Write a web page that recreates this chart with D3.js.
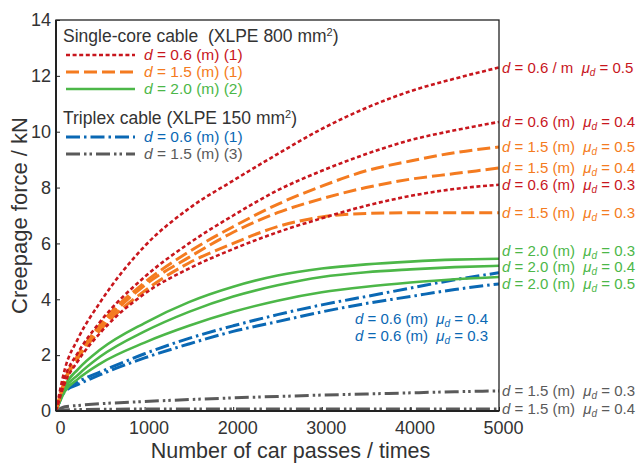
<!DOCTYPE html>
<html>
<head>
<meta charset="utf-8">
<script src="https://cdn.jsdelivr.net/npm/d3@7"></script>
<style>
body { margin: 0; background: #fff; font-family: "Liberation Sans", Arial, sans-serif; }
text { white-space: pre; }
</style>
</head>
<body>
<script>
var width  = 643;
var height = 463;
var margin = {top: 20, right: 144, bottom: 52, left: 56};

// number of car passes where the curves were read
var passes = [0, 100, 250, 500, 1000, 1500, 2000, 2500, 3000, 3500, 4000, 4500, 5000];

// creepage force (kN), single-core cable
var red05    = [0, 1.5, 2.6, 3.9, 5.9, 7.25, 8.25, 9.2, 10.1, 10.85, 11.45, 11.9, 12.3];
var red04    = [0, 1.2, 2.1, 3.2, 4.8, 6.0, 7.0, 7.9, 8.6, 9.2, 9.7, 10.05, 10.35];
var red03    = [0, 1.0, 1.8, 2.8, 4.2, 5.1, 5.8, 6.4, 6.9, 7.35, 7.7, 7.95, 8.1];
var orange05 = [0, 1.1, 2.0, 3.1, 4.6, 5.7, 6.6, 7.4, 8.05, 8.6, 8.95, 9.25, 9.45];
var orange04 = [0, 1.1, 2.0, 3.0, 4.5, 5.5, 6.4, 7.1, 7.6, 8.0, 8.3, 8.5, 8.7];
var orange03 = [0, 1.05, 1.9, 2.9, 4.3, 5.3, 6.0, 6.6, 6.95, 7.07, 7.1, 7.1, 7.1];
var green03  = [0, 0.9, 1.5, 2.2, 3.15, 3.9, 4.45, 4.85, 5.1, 5.25, 5.35, 5.42, 5.45];
var green04  = [0, 0.8, 1.3, 1.95, 2.85, 3.55, 4.1, 4.5, 4.8, 4.97, 5.07, 5.15, 5.2];
var green05  = [0, 0.7, 1.15, 1.7, 2.45, 3.05, 3.55, 3.95, 4.25, 4.45, 4.6, 4.72, 4.8];
// triplex cable
var blue04   = [0, 0.75, 1.05, 1.4, 2.05, 2.6, 3.05, 3.45, 3.8, 4.1, 4.4, 4.7, 4.95];
var blue03   = [0, 0.7, 0.95, 1.3, 1.9, 2.4, 2.85, 3.2, 3.55, 3.85, 4.1, 4.35, 4.55];
var gray03   = [0, 0.15, 0.2, 0.26, 0.34, 0.41, 0.47, 0.52, 0.57, 0.61, 0.65, 0.69, 0.72];
var gray04   = [0, 0.04, 0.05, 0.06, 0.07, 0.07, 0.07, 0.07, 0.07, 0.07, 0.07, 0.07, 0.07];

var xTicks = [0, 1000, 2000, 3000, 4000, 5000];
var yTicks = [0, 2, 4, 6, 8, 10, 12, 14];

var legendGroups = [
    {"title": "Single-core cable  (XLPE 800 mm", "items": [
        {"style": "red",    "text": "= 0.6 (m) (1)"},
        {"style": "orange", "text": "= 1.5 (m) (1)"},
        {"style": "green",  "text": "= 2.0 (m) (2)"}]},
    {"title": "Triplex cable (XLPE 150 mm", "items": [
        {"style": "blue",   "text": "= 0.6 (m) (1)"},
        {"style": "gray",   "text": "= 1.5 (m) (3)"}]}
];

var styles = {
    "red":    {"color": "#c8161d", "dash": "4,2.6",        "w": 2.6},
    "orange": {"color": "#f47b20", "dash": "13,5",         "w": 3},
    "green":  {"color": "#4cb748", "dash": null,           "w": 2.6},
    "blue":   {"color": "#0a68b4", "dash": "14,4,2.5,4",   "w": 3},
    "gray":   {"color": "#5a5a5a", "dash": "14,4,2.5,3,2.5,4", "w": 3}
};

var series = [
    {"v": red05,    "s": "red",    "d": "0.6 / m", "mu": "0.5", "lab": "right"},
    {"v": red04,    "s": "red",    "d": "0.6 (m)", "mu": "0.4", "lab": "right"},
    {"v": red03,    "s": "red",    "d": "0.6 (m)", "mu": "0.3", "lab": "right"},
    {"v": orange05, "s": "orange", "d": "1.5 (m)", "mu": "0.5", "lab": "right"},
    {"v": orange04, "s": "orange", "d": "1.5 (m)", "mu": "0.4", "lab": "right"},
    {"v": orange03, "s": "orange", "d": "1.5 (m)", "mu": "0.3", "lab": "right"},
    {"v": green03,  "s": "green",  "d": "2.0 (m)", "mu": "0.3", "lab": "right"},
    {"v": green04,  "s": "green",  "d": "2.0 (m)", "mu": "0.4", "lab": "right"},
    {"v": green05,  "s": "green",  "d": "2.0 (m)", "mu": "0.5", "lab": "right"},
    {"v": blue04,   "s": "blue",   "d": "0.6 (m)", "mu": "0.4", "lab": "inside"},
    {"v": blue03,   "s": "blue",   "d": "0.6 (m)", "mu": "0.3", "lab": "inside"},
    {"v": gray03,   "s": "gray",   "d": "1.5 (m)", "mu": "0.3", "lab": "right"},
    {"v": gray04,   "s": "gray",   "d": "1.5 (m)", "mu": "0.4", "lab": "right"}
];

var cWidth  = width - margin.left - margin.right;
var cHeight = height - margin.top - margin.bottom;

var svg = d3.select("body").append("svg")
    .attr("width", width)
    .attr("height", height)
    .append("g")
    .attr("transform", "translate(" + margin.left + "," + margin.top + ")");

var x = d3.scaleLinear().domain([0, 5000]).range([0, cWidth]);
var y = d3.scaleLinear().domain([0, 14]).range([cHeight, 0]);

svg.append("clipPath").attr("id", "clip")
    .append("rect").attr("width", cWidth).attr("height", cHeight);

var line = d3.line()
    .x(function(d, i) { return x(passes[i]); })
    .y(function(d) { return y(d); })
    .curve(d3.curveMonotoneX);

// curves, drawn bottom ones first
var plot = svg.append("g").attr("clip-path", "url(#clip)");
series.slice().reverse().forEach(function(s) {
    var st = styles[s.s];
    plot.append("path")
        .datum(s.v)
        .attr("fill", "none")
        .attr("stroke", st.color)
        .attr("stroke-width", st.w)
        .attr("stroke-dasharray", st.dash)
        .attr("d", line);
});

// axes
var xAxis = svg.append("g")
    .attr("transform", "translate(0," + cHeight + ")")
    .call(d3.axisBottom(x).tickValues(xTicks).tickFormat(d3.format("d"))
        .tickSizeInner(-4).tickSizeOuter(0).tickPadding(10));
xAxis.selectAll("text").attr("dx", 4);
var yAxis = svg.append("g")
    .call(d3.axisLeft(y).tickValues(yTicks).tickSizeInner(-4).tickSizeOuter(0).tickPadding(5));
[xAxis, yAxis].forEach(function(a) {
    a.selectAll("text").attr("font-size", 18).attr("fill", "#333")
        .attr("font-family", "Liberation Sans, Arial, sans-serif");
    a.selectAll(".tick line").attr("stroke", "#222");
    a.select(".domain").remove();
});

// frame
svg.append("rect")
    .attr("width", cWidth).attr("height", cHeight)
    .attr("fill", "none").attr("stroke", "#222").attr("stroke-width", 1.3);
svg.append("line").attr("x1", 0).attr("x2", 0).attr("y1", 0).attr("y2", cHeight)
    .attr("stroke", "#222").attr("stroke-width", 2);
svg.append("line").attr("x1", 0).attr("x2", cWidth).attr("y1", cHeight).attr("y2", cHeight)
    .attr("stroke", "#222").attr("stroke-width", 2);

// axis titles
svg.append("text")
    .attr("x", cWidth / 2 + 13).attr("y", cHeight + 47)
    .attr("text-anchor", "middle").attr("font-size", 21.5).attr("fill", "#333")
    .text("Number of car passes / times");
svg.append("text")
    .attr("transform", "translate(" + (-29) + "," + (cHeight / 2) + ") rotate(-90)")
    .attr("text-anchor", "middle").attr("font-size", 22).attr("fill", "#333")
    .text("Creepage force / kN");

// label helper: "d = .. (m)  μd = .."
function curveLabel(g, s, px, py, anchor) {
    var t = g.append("text")
        .attr("x", px).attr("y", py).attr("dy", "0.35em")
        .attr("text-anchor", anchor)
        .attr("font-size", 15)
        .attr("fill", styles[s.s].color);
    t.append("tspan").attr("font-style", "italic").text("d");
    t.append("tspan").text(" = " + s.d + "  ");
    t.append("tspan").attr("font-style", "italic").text("\u03bc");
    t.append("tspan").attr("font-style", "italic").attr("font-size", 10).attr("dy", 3).text("d");
    t.append("tspan").attr("dy", -3).text(" = " + s.mu);
}

// right side labels, spread so they do not overlap
var rightLabels = series.filter(function(s) { return s.lab == "right"; })
    .map(function(s) { return {s: s, y: y(s.v[s.v.length - 1])}; })
    .sort(function(a, b) { return a.y - b.y; });
for (var k = 0; k < 60; k++) {
    for (var i = 0; i < rightLabels.length - 1; i++) {
        var gap = rightLabels[i + 1].y - rightLabels[i].y;
        if (gap < 16.5) {
            var push = (16.5 - gap) / 2;
            rightLabels[i].y -= push;
            rightLabels[i + 1].y += push;
        }
    }
}
rightLabels.forEach(function(l) { curveLabel(svg, l.s, cWidth + 3, l.y, "start"); });

// blue labels sit inside the plot under the curve ends
var inside = series.filter(function(s) { return s.lab == "inside"; });
inside.forEach(function(s, i) {
    curveLabel(svg, s, cWidth - 11, y(inside[inside.length - 1].v[s.v.length - 1]) + 35 + i * 16.5, "end");
});

// legend
var ly = 16;
legendGroups.forEach(function(grp, gi) {
    var title = svg.append("text").attr("x", 7).attr("y", ly).attr("dy", "0.35em")
        .attr("font-size", 17.5).attr("fill", "#333");
    title.append("tspan").text(grp.title);
    title.append("tspan").attr("font-size", 11).attr("dy", -6).text("2");
    title.append("tspan").attr("dy", 6).text(")");
    ly += 19;
    grp.items.forEach(function(it) {
        var st = styles[it.style];
        svg.append("line")
            .attr("x1", 10).attr("x2", 79).attr("y1", ly).attr("y2", ly)
            .attr("stroke", st.color).attr("stroke-width", st.w)
            .attr("stroke-dasharray", st.dash);
        var t = svg.append("text").attr("x", 88).attr("y", ly).attr("dy", "0.35em")
            .attr("font-size", 15.5).attr("fill", st.color);
        t.append("tspan").attr("font-style", "italic").text("d");
        t.append("tspan").text(" " + it.text);
        ly += 17;
    });
    ly += 12;
});
</script>
</body>
</html>
